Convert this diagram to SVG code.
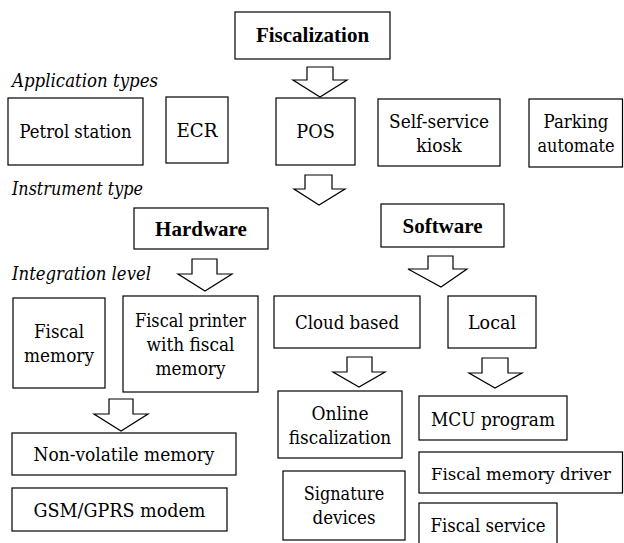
<svg xmlns="http://www.w3.org/2000/svg" width="624" height="543" viewBox="0 0 624 543">
<style>
rect{fill:#fff;stroke:#000;stroke-width:1.2}
polygon{fill:#fff;stroke:#000;stroke-width:1.2;stroke-linejoin:miter}
text{font-family:'DejaVu Serif','Liberation Serif',serif;font-size:18px;fill:#000;text-anchor:middle}
text.b{font-family:'Liberation Serif','Times New Roman',serif;font-size:21px;font-weight:bold}
text.i{font-style:italic;text-anchor:start}
</style>
<rect x="0" y="0" width="624" height="543" style="stroke:none"/>
<text class="i" x="12" y="87" textLength="146" lengthAdjust="spacingAndGlyphs">Application types</text>
<text class="i" x="12" y="195" textLength="131" lengthAdjust="spacingAndGlyphs">Instrument type</text>
<text class="i" x="12" y="280" textLength="139" lengthAdjust="spacingAndGlyphs">Integration level</text>
<g id="connectors">
<polygon points="307,67 333,67 333,80 347,80 320,97 293,80 307,80"/>
<polygon points="305,175 332,175 332,189 345,189 319,205 294,189 305,189"/>
<polygon points="192,259 217,259 217,274 232,274 205,291 178,274 192,274"/>
<polygon points="428,256 453,256 453,269 467,269 441,287 408,269 428,269"/>
<polygon points="109,399 133,399 133,414 148,414 121,431 94,414 109,414"/>
<polygon points="347,357 372,357 372,372 385,372 359,387 333,372 347,372"/>
<polygon points="482,358 508,358 508,373 522,373 495,388 469,373 482,373"/>
</g>
<g id="fiscalization"><rect x="235" y="12" width="155" height="47"/><text class="b" x="312.5" y="42">Fiscalization</text></g>
<g id="petrol"><rect x="8" y="98" width="135" height="67"/><text x="75.5" y="138" textLength="112" lengthAdjust="spacingAndGlyphs">Petrol station</text></g>
<g id="ecr"><rect x="166" y="97" width="62" height="66"/><text x="197" y="137" textLength="41" lengthAdjust="spacingAndGlyphs">ECR</text></g>
<g id="pos"><rect x="276" y="98" width="79" height="67"/><text x="315.5" y="138" textLength="38.5" lengthAdjust="spacingAndGlyphs">POS</text></g>
<g id="kiosk"><rect x="378" y="99" width="122" height="67"/><text x="439" y="128" textLength="100" lengthAdjust="spacingAndGlyphs">Self-service</text><text x="439" y="152" textLength="45.5" lengthAdjust="spacingAndGlyphs">kiosk</text></g>
<g id="parking"><rect x="529" y="99" width="93.5" height="68"/><text x="576" y="128" textLength="65" lengthAdjust="spacingAndGlyphs">Parking</text><text x="576" y="152" textLength="77" lengthAdjust="spacingAndGlyphs">automate</text></g>
<g id="hardware"><rect x="134" y="208" width="134" height="41"/><text class="b" x="201" y="236">Hardware</text></g>
<g id="software"><rect x="381" y="204" width="123" height="43"/><text class="b" x="442.5" y="233">Software</text></g>
<g id="fiscal-memory"><rect x="13" y="298" width="92" height="90"/><text x="59" y="338" textLength="50" lengthAdjust="spacingAndGlyphs">Fiscal</text><text x="59" y="362" textLength="70" lengthAdjust="spacingAndGlyphs">memory</text></g>
<g id="fiscal-printer"><rect x="123" y="296" width="135" height="96"/><text x="190.5" y="327" textLength="111" lengthAdjust="spacingAndGlyphs">Fiscal printer</text><text x="190.5" y="351" textLength="88" lengthAdjust="spacingAndGlyphs">with fiscal</text><text x="190.5" y="375" textLength="70" lengthAdjust="spacingAndGlyphs">memory</text></g>
<g id="cloud"><rect x="274" y="296" width="146" height="52"/><text x="347" y="329" textLength="104" lengthAdjust="spacingAndGlyphs">Cloud based</text></g>
<g id="local"><rect x="448" y="296" width="88" height="52"/><text x="492" y="329" textLength="48" lengthAdjust="spacingAndGlyphs">Local</text></g>
<g id="online"><rect x="278" y="391" width="124" height="67"/><text x="340" y="420" textLength="57" lengthAdjust="spacingAndGlyphs">Online</text><text x="340" y="444" textLength="102.5" lengthAdjust="spacingAndGlyphs">fiscalization</text></g>
<g id="signature"><rect x="283" y="471" width="122" height="69"/><text x="344" y="500" textLength="80.5" lengthAdjust="spacingAndGlyphs">Signature</text><text x="344" y="524" textLength="63" lengthAdjust="spacingAndGlyphs">devices</text></g>
<g id="mcu"><rect x="419" y="396" width="148" height="44"/><text x="493" y="426" textLength="124" lengthAdjust="spacingAndGlyphs">MCU program</text></g>
<g id="fm-driver"><rect x="419" y="452" width="203.5" height="41"/><text x="521" y="480" style="font-size:16.5px" textLength="180" lengthAdjust="spacingAndGlyphs">Fiscal memory driver</text></g>
<g id="fiscal-service"><rect x="419" y="503" width="138" height="44"/><text x="488" y="532" textLength="115" lengthAdjust="spacingAndGlyphs">Fiscal service</text></g>
<g id="nonvolatile"><rect x="12" y="433" width="224" height="42"/><text x="124" y="461" textLength="181" lengthAdjust="spacingAndGlyphs">Non-volatile memory</text></g>
<g id="gsm"><rect x="12" y="488" width="215" height="43"/><text x="119.5" y="517" textLength="172" lengthAdjust="spacingAndGlyphs">GSM/GPRS modem</text></g>
</svg>
